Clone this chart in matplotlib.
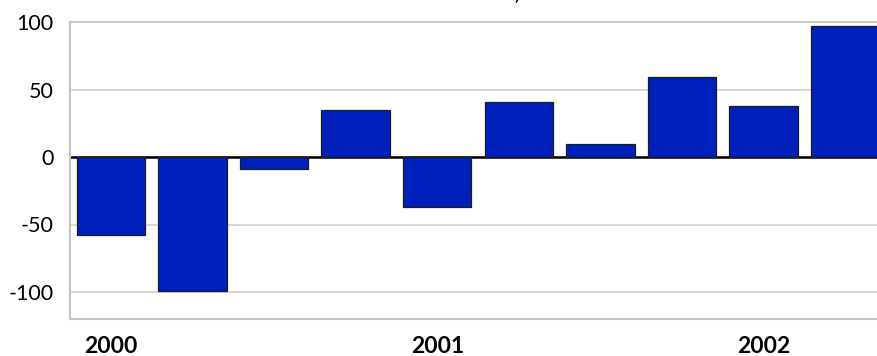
import matplotlib
matplotlib.use("Agg")
import matplotlib.pyplot as plt
import numpy as np

periods = ["2000 Q1", "2000 Q2", "2000 Q3", "2000 Q4", "2001 Q1", "2001 Q2",
           "2001 Q3", "2001 Q4", "2002 Q1", "2002 Q2"]
values = [-58, -99, -9, 35, -37, 41, 10, 59, 38, 97]
year_labels = ["2000", "2001", "2002"]
year_positions = [0, 4, 8]
yticks = [-100, -50, 0, 50, 100]

plt.rcParams['font.family'] = ['Lato', 'DejaVu Sans']

fig = plt.figure(figsize=(8.77, 3.56), dpi=100)
ax = fig.add_axes([70 / 877, 37 / 356, 816 / 877, 297 / 356])

x = np.arange(len(values))
ax.bar(x, values, width=0.84, color='#0020BE', edgecolor='#1c1c1c',
       linewidth=0.9, zorder=3)
ax.axhline(0, color='black', linewidth=1.8, zorder=2)

ax.set_xlim(-0.5, len(values) - 0.5)
ax.set_ylim(-120, 100)
ax.set_yticks(yticks)
ax.set_yticklabels([str(v) for v in yticks])
ax.yaxis.grid(True, color='#d4d4d4', linewidth=1.3, zorder=0)
ax.set_axisbelow(True)

ax.set_xticks(year_positions)
ax.set_xticklabels(year_labels, fontweight='bold')
ax.tick_params(axis='x', length=0, pad=12, labelsize=16.5)
ax.tick_params(axis='y', length=0, pad=12, labelsize=15.5)

for side in ['right']:
    ax.spines[side].set_visible(False)
for side in ['left', 'bottom', 'top']:
    ax.spines[side].set_color('#c4c4c4')
    ax.spines[side].set_linewidth(1.5)
ax.spines['top'].set_linewidth(1.2)

fig.text(517 / 877, 1.0, ')', ha='center', va='baseline', fontsize=15)

fig.savefig('out.png', dpi=100)
